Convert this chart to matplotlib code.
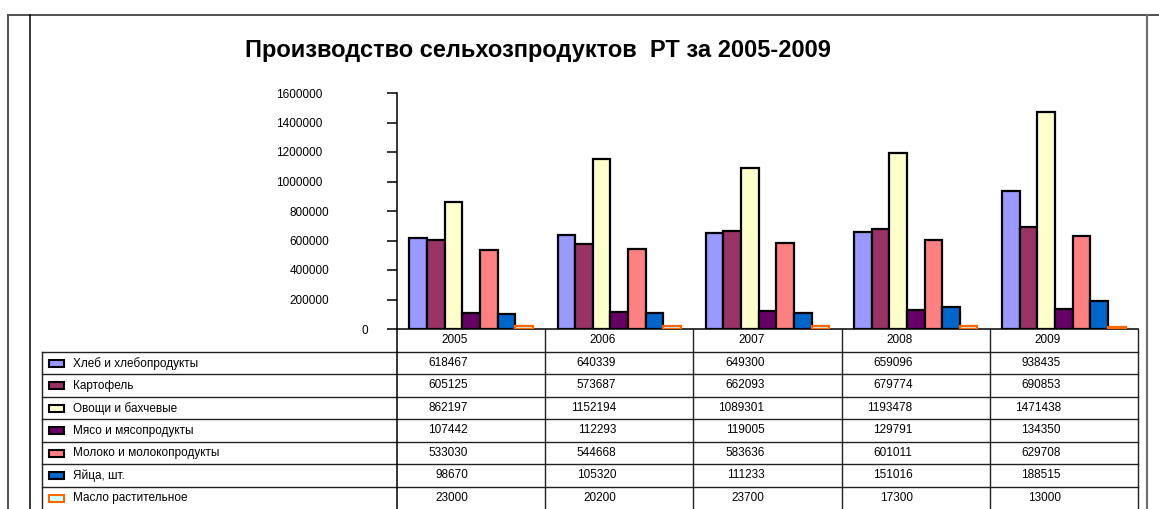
import numpy as np
import matplotlib
matplotlib.use('Agg')
import matplotlib.pyplot as plt
from matplotlib.patches import Rectangle
from matplotlib.lines import Line2D

plt.rcParams['font.family'] = ['Liberation Sans', 'DejaVu Sans']

title = "Производство сельхозпродуктов  РТ за 2005-2009"
years = ['2005', '2006', '2007', '2008', '2009']
series_names = ['Хлеб и хлебопродукты', 'Картофель', 'Овощи и бахчевые',
                'Мясо и мясопродукты', 'Молоко и молокопродукты',
                'Яйца, шт.', 'Масло растительное']
bread = [618467, 640339, 649300, 659096, 938435]
potato = [605125, 573687, 662093, 679774, 690853]
vegetables = [862197, 1152194, 1089301, 1193478, 1471438]
meat = [107442, 112293, 119005, 129791, 134350]
milk = [533030, 544668, 583636, 601011, 629708]
eggs = [98670, 105320, 111233, 151016, 188515]
oil = [23000, 20200, 23700, 17300, 13000]
series = [bread, potato, vegetables, meat, milk, eggs, oil]
yticks = [0, 200000, 400000, 600000, 800000, 1000000, 1200000, 1400000, 1600000]

fills = ['#9999FF', '#993366', '#FFFFCC', '#660066', '#FF8080', '#0066CC', '#CCFFFF']
edges = ['black'] * 6 + ['#FF6600']

W, H = 1159, 509
fig = plt.figure(figsize=(W / 100, H / 100), dpi=100)


def fx(px):
    return px / W


def fy(py):
    return 1 - py / H


# ---- chart axes ----
ax = fig.add_axes([fx(397), fy(329), fx(1138) - fx(397), fy(93) - fy(329)])
x = np.arange(len(years))
bw = 0.119
for j, (vals, fc, ec) in enumerate(zip(series, fills, edges)):
    ax.bar(x + (j - 3) * bw, vals, width=bw, color=fc, edgecolor=ec,
           linewidth=1.6, zorder=3)
ax.set_xlim(-0.5, len(years) - 0.5)
ax.set_ylim(0, 1600000)
ax.set_yticks(yticks)
ax.set_yticklabels([str(v) for v in yticks], fontsize=8.5)
ax.set_xticks([])
for s in ['top', 'right']:
    ax.spines[s].set_visible(False)
ax.spines['left'].set_linewidth(1.1)
ax.spines['bottom'].set_linewidth(1.1)
ax.tick_params(axis='y', length=7.2, width=1.1, direction='out')
ax.patch.set_visible(False)
for tk, v in zip(ax.yaxis.get_major_ticks(), yticks):
    n = len(str(v))
    if n >= 7:
        tk.set_pad(46.8)
    elif n == 6:
        tk.set_pad(41.8)
    else:
        tk.set_pad(13.7)

fig.text(fx(538), fy(57), title, ha='center', va='baseline',
         fontsize=17, fontweight='bold')

# ---- data table ----
ppu = 148.2
tb = fig.add_axes([fx(42), 0, fx(1138) - fx(42), fy(329)])
x0 = -0.5 - (397 - 42) / ppu
tb.set_xlim(x0, len(years) - 0.5)
tb.set_ylim(8, 0)
tb.axis('off')
lc = '#222222'
for r in range(1, 8):
    tb.plot([x0, len(years) - 0.5], [r, r], color=lc, lw=1.0, clip_on=False)
tb.plot([x0, x0], [1, 8], color=lc, lw=1.0, clip_on=False)
for k in range(len(years) + 1):
    xv = k - 0.5
    tb.plot([xv, xv], [0, 8], color=lc if k else 'black',
            lw=1.0 if k else 1.1, clip_on=False)

tx_off = 71 / ppu
for i, yr in enumerate(years):
    tb.text(i - 0.5 + tx_off, 0.5, yr, ha='right', va='center', fontsize=8.5)
for r, (name, vals, fc, ec) in enumerate(zip(series_names, series, fills, edges), start=1):
    for i, v in enumerate(vals):
        tb.text(i - 0.5 + tx_off, r + 0.5, str(v), ha='right', va='center', fontsize=8.5)
    tb.add_patch(Rectangle((x0 + 7.5 / ppu, r + 0.5 - 0.13), 15 / ppu, 0.3,
                           facecolor=fc, edgecolor=ec, linewidth=1.5, clip_on=False))
    tb.text(x0 + 30.7 / ppu, r + 0.52, name, ha='left', va='center', fontsize=8.5)

# ---- outer frame ----
fig.add_artist(Line2D([fx(8), 1], [fy(15), fy(15)], transform=fig.transFigure,
                      color='#505050', lw=1.4))
fig.add_artist(Line2D([fx(8), fx(8)], [fy(15), 0], transform=fig.transFigure,
                      color='#505050', lw=1.4))
fig.add_artist(Line2D([fx(30), fx(30)], [fy(15), 0], transform=fig.transFigure,
                      color='black', lw=1.1))
fig.add_artist(Line2D([fx(1147), fx(1147)], [fy(15), 0], transform=fig.transFigure,
                      color='#707070', lw=1.6))

fig.savefig('out.png', dpi=100)
